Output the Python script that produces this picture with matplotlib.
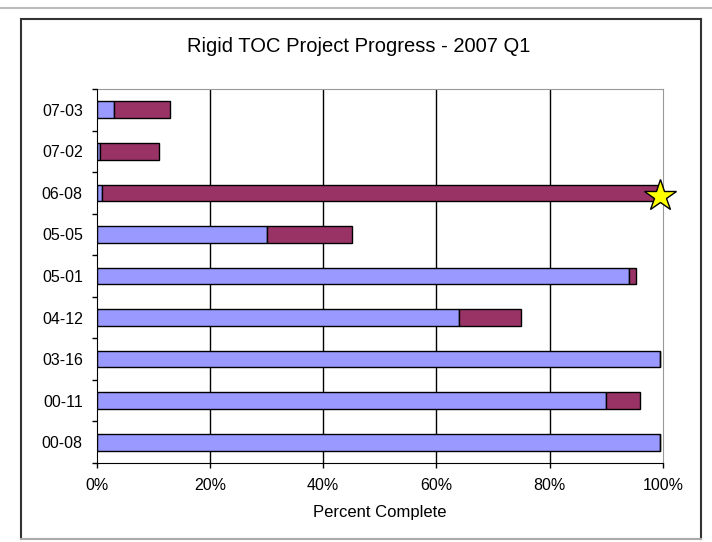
import matplotlib
matplotlib.use('Agg')
import matplotlib.pyplot as plt
from matplotlib.lines import Line2D
from matplotlib.ticker import FuncFormatter
import numpy as np

plt.rcParams['font.family'] = ['Liberation Sans', 'DejaVu Sans']

# bottom to top, as drawn
projects = ['00-08', '00-11', '03-16', '04-12', '05-01', '05-05', '06-08', '07-02', '07-03']
before_q1 = [99.5, 90, 99.5, 64, 94, 30, 1, 0.5, 3]      # blue segment
gained_q1 = [0, 6, 0, 11, 1.2, 15, 99, 10.5, 10]         # red segment
star_project = '06-08'
star_value = 99.5

blue = '#9999ff'
plum = '#993366'

fig = plt.figure(figsize=(7.12, 5.42), dpi=100)
ax = fig.add_axes([96.7/712, 1 - 463/542, (663 - 96.7)/712, (463 - 89)/542])

y = np.arange(len(projects))
ax.barh(y, before_q1, height=0.4, color=blue, edgecolor='black', linewidth=1, zorder=3)
ax.barh(y, gained_q1, left=before_q1, height=0.4, color=plum, edgecolor='black', linewidth=1, zorder=3)

ax.plot([star_value], [projects.index(star_project) - 0.08], marker='*', markersize=24,
        markerfacecolor='#ffff00', markeredgecolor='black', markeredgewidth=1,
        clip_on=False, zorder=5)

ax.set_xlim(0, 100)
ax.set_ylim(-0.5, len(projects) - 0.5)
ax.set_xticks([0, 20, 40, 60, 80, 100])
ax.xaxis.set_major_formatter(FuncFormatter(lambda v, p: f'{int(v)}%'))
ax.set_yticks(y)
ax.set_yticklabels(projects)
ax.set_yticks(np.arange(-0.5, len(projects), 1), minor=True)
ax.tick_params(axis='y', which='major', length=0, pad=10, labelsize=11.5)
ax.tick_params(axis='y', which='minor', length=3.5, width=1, direction='out', color='black')
ax.tick_params(axis='x', length=3.5, width=1, direction='out', pad=7, labelsize=11.5)

for v in [20, 40, 60, 80]:
    ax.axvline(v, color='black', linewidth=1, zorder=1)

ax.spines['left'].set_color('black')
ax.spines['bottom'].set_color('black')
ax.spines['top'].set_color('#999999')
ax.spines['right'].set_color('#999999')
ax.spines['left'].set_zorder(4)

ax.set_xlabel('Percent Complete', fontsize=12, labelpad=9)
fig.text(359/712, 1 - 46/542, 'Rigid TOC Project Progress - 2007 Q1',
         ha='center', va='center', fontsize=14.5)

# chart frame and page line
W, H = 712, 542
def fl(x0, y0, x1, y1, c, lw):
    fig.add_artist(Line2D([x0/W, x1/W], [1 - y0/H, 1 - y1/H], color=c, linewidth=lw))

fl(0, 8, W, 8, '#bbbbbb', 1.5)
fl(21, 19, 701, 19, '#333333', 1.5)
fl(21, 19, 21, 539, '#333333', 1.5)
fl(701, 19, 701, 539, '#333333', 1.5)
fl(21, 539, 701, 539, '#aaaaaa', 1.5)

fig.savefig('out.png', dpi=100)
